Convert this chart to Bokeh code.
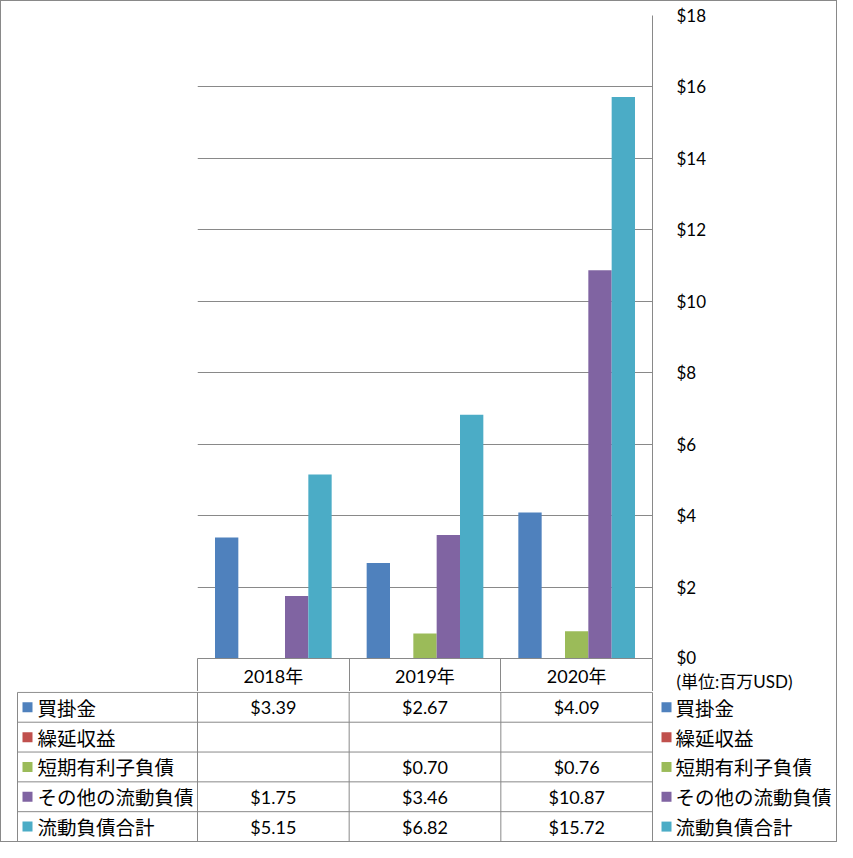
import numpy as np
from bokeh.plotting import figure
from bokeh.models import (ColumnDataSource, Range1d, LinearAxis, FixedTicker,
                          NumeralTickFormatter)
from bokeh.layouts import column
from bokeh.core.properties import value
from bokeh.embed import file_html
from bokeh.resources import INLINE

# ---------------- data ----------------
years = ["2018年", "2019年", "2020年"]
series = ["買掛金", "繰延収益", "短期有利子負債", "その他の流動負債", "流動負債合計"]
accounts_payable = [3.39, 2.67, 4.09]
deferred_revenue = [None, None, None]
short_term_debt = [None, 0.70, 0.76]
other_current = [1.75, 3.46, 10.87]
total_current = [5.15, 6.82, 15.72]
colors = ["#4F81BD", "#C0504D", "#9BBB59", "#8064A2", "#4BACC6"]
y_ticks = [0, 2, 4, 6, 8, 10, 12, 14, 16, 18]
unit_note = "(単位:百万USD)"

values = [accounts_payable, deferred_revenue, short_term_debt, other_current, total_current]

# ---------------- layout constants ----------------
W = 835
FL = 196          # frame left
FR = 184          # right border
H1 = 690          # chart height (incl. header row)
TOP = 14
HDR = 33          # header row height
H2 = 150          # table body height
GRAY = "#898989"
JP = "Noto Sans CJK JP"
NUM = "Lato, Noto Sans CJK JP"

n = len(years)
colw = (W - FL - FR) / n
ns = len(series)
gap = 1.5
bw = 1.0 / (ns + gap)
centers = [k + 0.5 for k in range(n)]

# ---------------- chart ----------------
p1 = figure(width=W, height=H1, output_backend="svg", toolbar_location=None,
            x_range=Range1d(0, n), y_range=Range1d(0, 18),
            x_axis_location=None, y_axis_location="right",
            min_border_left=FL, min_border_right=FR, min_border_top=TOP, min_border_bottom=HDR)
p1.frame_align = False
p1.outline_line_color = None
p1.background_fill_color = "white"
p1.border_fill_color = "white"

for i, (s, v, c) in enumerate(zip(series, values, colors)):
    off = (i - (ns - 1) / 2) * bw
    src = ColumnDataSource(dict(x=[cx + off for cx in centers],
                                top=[np.nan if a is None else a for a in v]))
    p1.vbar(x="x", top="top", width=bw, source=src, fill_color=c, line_color=None)

ya = p1.yaxis[0]
ya.ticker = FixedTicker(ticks=y_ticks)
ya.formatter = NumeralTickFormatter(format="$0")
ya.major_label_overrides = {0: " \n$0\n" + unit_note}
ya.axis_line_color = GRAY
ya.major_tick_line_color = None
ya.minor_tick_line_color = None
ya.major_label_standoff = 18
ya.major_label_text_font = NUM
ya.major_label_text_font_size = "17px"
ya.major_label_text_line_height = 1.1
ya.major_label_text_color = "black"

p1.ygrid.ticker = FixedTicker(ticks=y_ticks)
p1.ygrid.grid_line_color = GRAY
p1.xgrid.visible = False

# header row: year labels + cell separators
hx = LinearAxis(ticker=FixedTicker(ticks=centers, minor_ticks=list(range(n + 1))),
                major_label_overrides={c: y for c, y in zip(centers, years)})
hx.axis_line_color = GRAY
hx.major_tick_line_color = None
hx.major_tick_out = 0
hx.major_tick_in = 0
hx.minor_tick_line_color = GRAY
hx.minor_tick_in = -HDR
hx.minor_tick_out = 0
hx.major_label_standoff = 6
hx.major_label_text_font = NUM
hx.major_label_text_font_size = "18px"
hx.major_label_text_color = "black"
p1.add_layout(hx, "below")

# ---------------- table body ----------------
lab_left = -(FL - 16) / colw
x_start = -FL / colw
x_end = n + FR / colw
p2 = figure(width=W, height=H2, output_backend="svg", toolbar_location=None,
            x_range=Range1d(x_start, x_end), y_range=Range1d(ns, -0.03),
            x_axis_location=None, y_axis_location=None,
            min_border_left=0, min_border_right=0, min_border_top=0, min_border_bottom=0)
p2.frame_align = False
p2.outline_line_color = None
p2.xgrid.visible = False
p2.ygrid.visible = False

rows = list(range(ns))
# horizontal separators
p2.segment(x0=[lab_left] * ns, x1=[n] * ns, y0=rows, y1=rows, line_color=GRAY, line_width=1)
# vertical separators
vx = [lab_left] + list(range(n + 1))
p2.segment(x0=vx, x1=vx, y0=[0] * len(vx), y1=[ns] * len(vx), line_color=GRAY, line_width=1)

# row labels (left) and legend (right)
rc = [r + 0.5 for r in rows]
left_sq = x_start + 26 / colw
left_tx = x_start + 36 / colw
right_sq = n + 14 / colw
right_tx = n + 23 / colw
p2.scatter(x=[left_sq] * ns, y=rc, marker="square", size=10, fill_color=colors, line_color=None)
p2.scatter(x=[right_sq] * ns, y=rc, marker="square", size=10, fill_color=colors, line_color=None)
p2.text(x=[left_tx] * ns, y=rc, text=series, text_font=value(JP), text_font_size="19.5px",
        text_baseline="middle", text_align="left", text_color="black")
p2.text(x=[right_tx] * ns, y=rc, text=series, text_font=value(JP), text_font_size="19.5px",
        text_baseline="middle", text_align="left", text_color="black")

# cell values
tx, ty, tt = [], [], []
for r, v in enumerate(values):
    for k, a in enumerate(v):
        if a is not None:
            tx.append(centers[k])
            ty.append(r + 0.5)
            tt.append("$%.2f" % a)
p2.text(x=tx, y=ty, text=tt, text_font=value(NUM), text_font_size="18px",
        text_baseline="middle", text_align="center", text_color="black")

layout = column(p1, p2, spacing=0, styles={"border": "1px solid " + GRAY})

open("out.html", "w").write(file_html(layout, INLINE))
